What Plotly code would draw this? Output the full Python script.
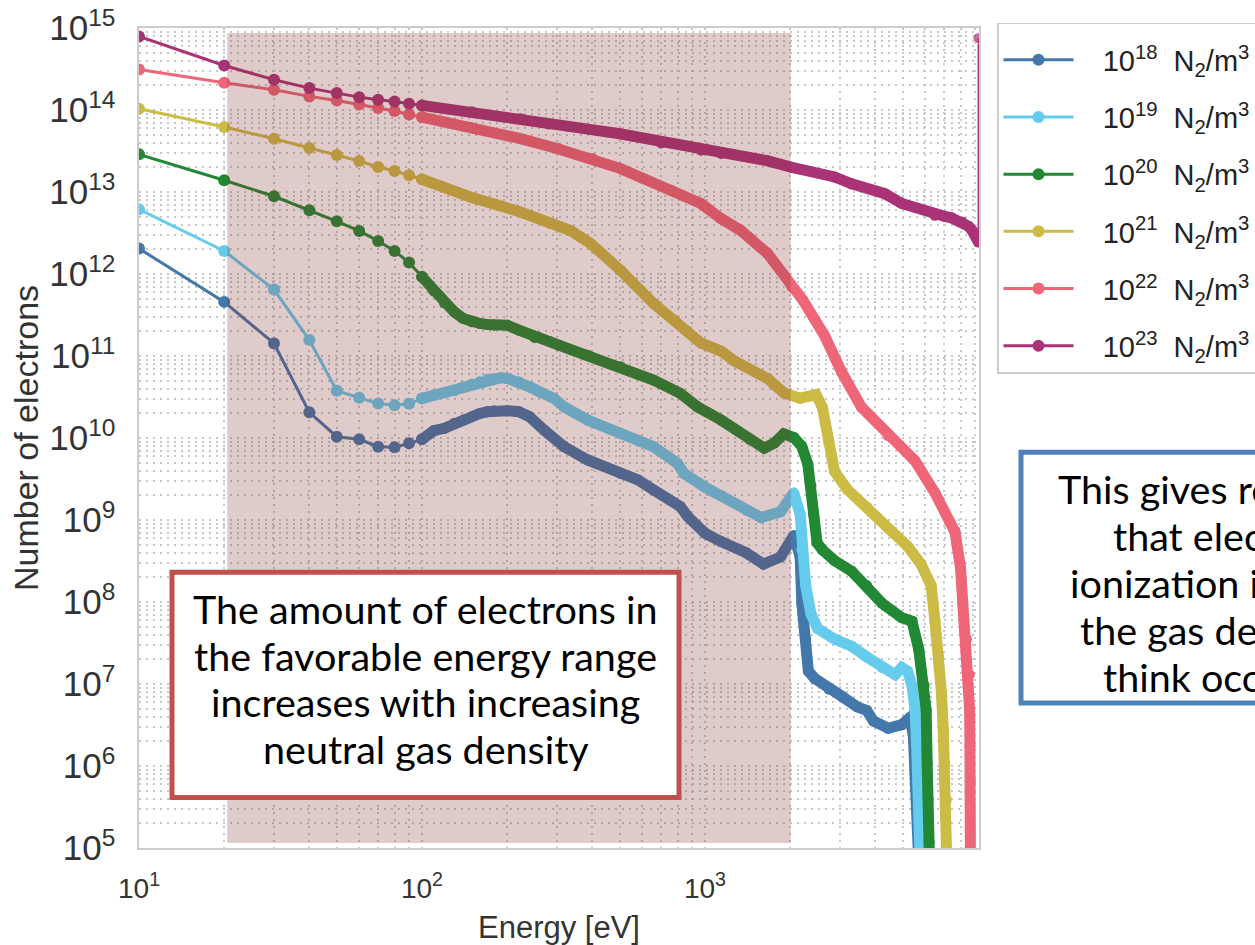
import numpy as np
import plotly.graph_objects as go

# ---------------------------------------------------------------------------
# Electron energy spectra for six N2 neutral densities.
# Counts are stored as log10(number of electrons).
# Low-energy points (10-100 eV) share one energy grid; the dense high-energy
# part of every spectrum is listed separately.
# ---------------------------------------------------------------------------
E_HEAD = [10, 20, 30, 40, 50, 60, 70, 80, 90, 100]

LOG_HEAD_1E18 = [12.31, 11.66, 11.153, 10.313, 10.016, 9.984, 9.894, 9.886, 9.935, 9.984]
LOG_HEAD_1E19 = [12.789, 12.281, 11.81, 11.194, 10.576, 10.49, 10.42, 10.40, 10.417, 10.483]
LOG_HEAD_1E20 = [13.459, 13.143, 12.948, 12.777, 12.643, 12.525, 12.403, 12.281, 12.14, 11.965]
LOG_HEAD_1E21 = [14.016, 13.792, 13.65, 13.536, 13.451, 13.378, 13.305, 13.256, 13.203, 13.155]
LOG_HEAD_1E22 = [14.494, 14.332, 14.247, 14.166, 14.117, 14.068, 14.023, 13.987, 13.946, 13.914]
LOG_HEAD_1E23 = [14.896, 14.543, 14.369, 14.267, 14.206, 14.157, 14.125, 14.105, 14.077, 14.056]

E_TAIL_1E18 = [100, 110, 120, 130, 140, 150, 160, 170, 180, 200, 220, 240, 270, 318, 385, 503,
               580, 658, 819, 870, 1000, 1140, 1400, 1610, 1850, 2060, 2170, 2200, 2270, 2320,
               2440, 2740, 3040, 3450, 3730, 3940, 4440, 4960, 5300, 5450, 5530, 5600, 5700, 5750]
LOG_TAIL_1E18 = [9.984, 10.089, 10.118, 10.179, 10.219, 10.26, 10.30, 10.32, 10.333, 10.333,
                 10.32, 10.26, 10.097, 9.894, 9.732, 9.57, 9.489, 9.367, 9.163, 9.04, 8.84,
                 8.737, 8.6, 8.462, 8.549, 8.81, 8.549, 7.983, 7.548, 7.157, 7.07, 6.939,
                 6.852, 6.722, 6.678, 6.548, 6.46, 6.504, 6.59, 6.374, 6.026, 5.59, 5.156, 4.5]

E_TAIL_1E19 = [100, 110, 120, 130, 140, 150, 160, 170, 180, 190, 200, 220, 240, 260, 293, 318,
               385, 503, 658, 800, 842, 1000, 1140, 1400, 1580, 1850, 2060, 2170, 2200, 2270,
               2370, 2500, 2870, 3300, 3730, 4230, 4700, 4960, 5200, 5390, 5530, 5600, 5700,
               5770, 5800]
LOG_TAIL_1E19 = [10.483, 10.524, 10.552, 10.576, 10.625, 10.658, 10.686, 10.715, 10.727, 10.735,
                 10.727, 10.686, 10.625, 10.564, 10.483, 10.38, 10.219, 10.057, 9.894, 9.69,
                 9.57, 9.4, 9.3, 9.12, 9.03, 9.1, 9.331, 9.071, 8.636, 8.201, 7.853, 7.678,
                 7.548, 7.46, 7.331, 7.2, 7.113, 7.2, 7.157, 6.983, 6.678, 6.243, 5.59, 5.03, 4.5]

E_TAIL_1E20 = [100, 110, 120, 130, 140, 150, 160, 170, 180, 200, 220, 250, 284, 306, 385, 503,
               658, 819, 941, 1140, 1440, 1620, 1760, 1900, 2060, 2200, 2310, 2370, 2420, 2490,
               2600, 2870, 3300, 3730, 4230, 4960, 5390, 5700, 5950, 6050, 6100, 6150, 6200, 6250]
LOG_TAIL_1E20 = [11.965, 11.794, 11.648, 11.538, 11.458, 11.417, 11.397, 11.385, 11.376, 11.376,
                 11.315, 11.226, 11.173, 11.13, 11.01, 10.87, 10.706, 10.544, 10.38, 10.219,
                 9.984, 9.876, 9.94, 10.05, 10.006, 9.898, 9.68, 9.419, 9.071, 8.722, 8.636,
                 8.505, 8.375, 8.201, 7.983, 7.809, 7.766, 7.418, 6.983, 6.678, 6.03, 5.59,
                 5.07, 4.5]

E_TAIL_1E21 = [100, 148, 223, 284, 335, 395, 503, 658, 870, 968, 1140, 1270, 1665, 1900, 2170,
               2470, 2600, 2740, 2870, 3180, 3730, 4440, 5200, 5800, 6300, 6500, 6700, 6850,
               6950, 7050, 7130, 7200]
LOG_TAIL_1E21 = [13.155, 12.94, 12.756, 12.615, 12.53, 12.37, 12.046, 11.64, 11.3, 11.16, 11.06,
                 10.94, 10.724, 10.55, 10.485, 10.529, 10.376, 9.94, 9.593, 9.375, 9.158,
                 8.897, 8.68, 8.462, 8.201, 7.766, 7.331, 6.895, 6.46, 6.026, 5.59, 4.5]

E_TAIL_1E22 = [100, 148, 223, 300, 400, 503, 600, 760, 968, 1140, 1340, 1665, 2030, 2220, 2650,
               3034, 3573, 4440, 5520, 6500, 7650, 8000, 8150, 8400, 8600, 8620, 8640, 8660, 8680]
LOG_TAIL_1E22 = [13.914, 13.79, 13.65, 13.53, 13.41, 13.285, 13.17, 13.02, 12.86, 12.676, 12.53,
                 12.25, 11.843, 11.68, 11.246, 10.811, 10.376, 10.028, 9.723, 9.331, 8.854,
                 8.418, 7.983, 7.548, 7.113, 6.678, 6.243, 5.81, 4.5]

E_TAIL_1E23 = [100, 150, 223, 280, 330, 500, 560, 700, 968, 1140, 1668, 2030, 2871, 3300, 4322,
               4960, 6500, 7080, 7400, 8100, 8550, 8800, 9250]
LOG_TAIL_1E23 = [14.056, 13.98, 13.894, 13.83, 13.80, 13.71, 13.68, 13.60, 13.51, 13.47, 13.38,
                 13.30, 13.183, 13.10, 12.98, 12.86, 12.716, 12.70, 12.688, 12.635, 12.58,
                 12.53, 12.39]

# last sample of the densest case jumps back up at the end of the grid
E_END_1E23 = [9250, 9250]
LOG_END_1E23 = [12.39, 14.876]

DENSITY_EXPONENTS = [18, 19, 20, 21, 22, 23]
COLORS = ["#4477AA", "#66CCEE", "#228833", "#CCBB44", "#EE6677", "#AA3377"]

HEADS = [LOG_HEAD_1E18, LOG_HEAD_1E19, LOG_HEAD_1E20, LOG_HEAD_1E21, LOG_HEAD_1E22, LOG_HEAD_1E23]
TAILS = [(E_TAIL_1E18, LOG_TAIL_1E18), (E_TAIL_1E19, LOG_TAIL_1E19), (E_TAIL_1E20, LOG_TAIL_1E20),
         (E_TAIL_1E21, LOG_TAIL_1E21), (E_TAIL_1E22, LOG_TAIL_1E22), (E_TAIL_1E23, LOG_TAIL_1E23)]

# favourable energy window (eV)
WINDOW = (20.5, 2010)

X_TICKS = [10, 100, 1000]
X_TICK_TEXT = ["10<sup>1</sup>", "10<sup>2</sup>", "10<sup>3</sup>"]

FIG_W, FIG_H = 1255, 945
M_L, M_R, M_T, M_B = 139, 276, 27.5, 97
PLOT_W = FIG_W - M_L - M_R
PLOT_H = FIG_H - M_T - M_B


def px_x(px):
    return (px - M_L) / PLOT_W


def px_y(py):
    return (FIG_H - M_B - py) / PLOT_H


fig = go.Figure()

for exp_, color, head, (e_tail, log_tail) in zip(DENSITY_EXPONENTS, COLORS, HEADS, TAILS):
    group = f"n{exp_}"
    name = f"&nbsp;&nbsp;&nbsp;10<sup>{exp_}</sup>  N<sub>2</sub>/m<sup>3</sup>"
    fig.add_trace(go.Scatter(
        x=E_HEAD, y=10.0 ** np.array(head), mode="lines+markers", name=name,
        legendgroup=group, showlegend=True,
        line=dict(color=color, width=3),
        marker=dict(color=color, size=12),
    ))
    # dense high-energy samples: overlapping markers form a thick band
    fig.add_trace(go.Scatter(
        x=e_tail, y=10.0 ** np.array(log_tail), mode="lines+markers", name=name,
        legendgroup=group, showlegend=False,
        line=dict(color=color, width=11),
        marker=dict(color=color, size=11),
    ))
    if exp_ == 23:
        fig.add_trace(go.Scatter(
            x=E_END_1E23, y=10.0 ** np.array(LOG_END_1E23), mode="lines+markers",
            legendgroup=group, showlegend=False,
            line=dict(color=color, width=1.6),
            marker=dict(color=color, size=[0, 11]),
        ))

grid = dict(showgrid=True, gridcolor="#c8c8c8", gridwidth=1.6, griddash="2px,5px")

fig.update_xaxes(
    type="log", range=[1, np.log10(9300)],
    tickmode="array", tickvals=X_TICKS, ticktext=X_TICK_TEXT,
    ticks="", ticklabelstandoff=14,
    tickfont=dict(family="Liberation Sans, Arial", size=28, color="#333333"),
    title=dict(text="Energy [eV]", standoff=14,
               font=dict(family="Liberation Sans, Arial", size=31, color="#333333")),
    showline=True, mirror=True, linecolor="#cccccc", linewidth=2,
    zeroline=False, minor=dict(dtick="D1", **grid), **grid,
)
fig.update_yaxes(
    type="log", range=[5, 15],
    dtick=1, exponentformat="power", showexponent="all",
    ticks="", ticklabelstandoff=16,
    tickfont=dict(family="Liberation Sans, Arial", size=28, color="#333333"),
    title=dict(text="Number of electrons", standoff=0,
               font=dict(family="Liberation Sans, Arial", size=34, color="#333333")),
    showline=True, mirror=True, linecolor="#cccccc", linewidth=2,
    zeroline=False, minor=dict(dtick="D1", **grid), **grid,
)

shapes = [
    # shaded energy window, drawn over the curves
    dict(type="rect", xref="x", yref="paper", x0=WINDOW[0], x1=WINDOW[1], y0=0.006, y1=0.994,
         fillcolor="rgba(131,47,47,0.25)", line=dict(width=0), layer="above"),
    # text boxes
    dict(type="rect", xref="paper", yref="paper", x0=px_x(172), x1=px_x(679),
         y0=px_y(797.5), y1=px_y(572), fillcolor="white",
         line=dict(color="#C0504D", width=5), layer="above"),
    dict(type="rect", xref="paper", yref="paper", x0=px_x(1021), x1=px_x(1400),
         y0=px_y(703), y1=px_y(452), fillcolor="white",
         line=dict(color="#4F81BD", width=5), layer="above"),
]

TEXT_FONT = dict(family="Lato, Noto Sans", size=39.5, color="black")
left_lines = ["The amount of electrons in", "the favorable energy range",
              "increases with increasing", "neutral gas density"]
left_base = [621.7, 668.5, 715.3, 762]
right_lines = ["This gives re", "that elec", "ionization i", "the gas de", "think occ"]
right_x = [1056, 1111, 1068, 1078, 1101]
right_base = [501.7, 548.7, 595.7, 642.7, 689.7]

annotations = []
for txt, b in zip(left_lines, left_base):
    annotations.append(dict(text=txt, xref="paper", yref="paper", x=px_x(425.5),
                            y=px_y(b - 13.5), xanchor="center", yanchor="middle",
                            showarrow=False, font=TEXT_FONT))
for txt, xl, b in zip(right_lines, right_x, right_base):
    annotations.append(dict(text=txt, xref="paper", yref="paper", x=px_x(xl),
                            y=px_y(b - 13), xanchor="left", yanchor="middle",
                            showarrow=False, font=TEXT_FONT))

fig.update_layout(
    width=FIG_W, height=FIG_H,
    margin=dict(l=M_L, r=M_R, t=M_T, b=M_B, autoexpand=False),
    paper_bgcolor="white", plot_bgcolor="white",
    shapes=shapes, annotations=annotations,
    legend=dict(
        x=px_x(997), y=px_y(22), xanchor="left", yanchor="top",
        bgcolor="white", bordercolor="#cccccc", borderwidth=1.5,
        font=dict(family="Liberation Sans, Arial", size=29, color="#222222"),
        title=dict(text="&nbsp;", font=dict(size=8)),
        itemwidth=70, tracegroupgap=16.5,
    ),
)

fig.write_html("out.html")
